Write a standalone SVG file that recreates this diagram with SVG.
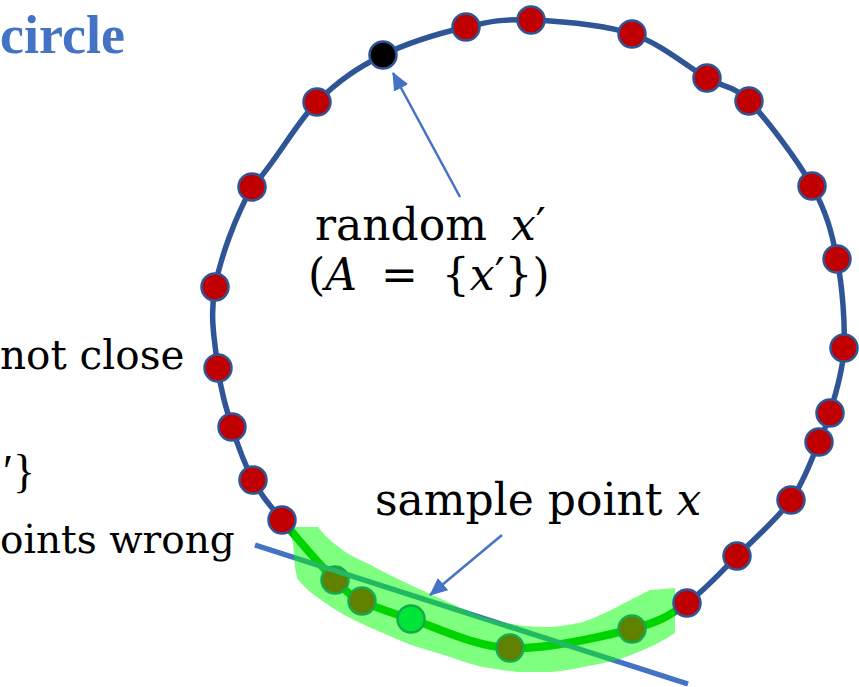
<svg xmlns="http://www.w3.org/2000/svg" width="859" height="687" viewBox="0 0 859 687">
<defs>
<style>
.i{font-style:italic}
.red{fill:#C00000;stroke:#2F5597;stroke-width:2.5}
.conn{stroke:#4472C4;stroke-width:2.5;fill:none}
</style>
<marker id="ah" markerUnits="userSpaceOnUse" markerWidth="20" markerHeight="16" refX="17" refY="8" orient="auto">
<path d="M0,0 L18,8 L0,16 Z" fill="#4472C4"/>
</marker>
</defs>
<rect width="859" height="687" fill="#fff"/>
<g id="ring">
<path d="M531,20 C558.67,21.17 602.67,24.33 632,34 C661.33,43.67 687.5,66.83 707,78 C726.5,89.17 731.5,84 749,101 C766.5,119 797.33,159.67 812,186 C826.67,212.33 831.67,232 837,259 C842.33,286 845.17,322.33 844,348 C842.83,373.67 834.17,397.33 830,413 C825.83,428.67 825.5,427.5 819,442 C812.5,456.5 804.67,481 791,500 C777.33,519 754.33,538.83 737,556 C719.67,573.17 704.5,590.83 687,603 C669.5,615.17 661.5,621.5 632,629 C602.5,636.5 546.83,649.67 510,648 C473.17,646.33 435.67,626.83 411,619 C386.33,611.17 374.67,607.5 362,601 C349.33,594.5 348.33,593.5 335,580 C321.67,566.5 295.67,536.67 282,520 C268.33,503.33 261.33,495.5 253,480 C244.67,464.5 237.83,445.67 232,427 C226.17,408.33 220.83,391.33 218,368 C215.17,344.67 209.33,317.17 215,287 C220.67,256.83 235,217.83 252,187 C273.83,165 295.17,124 317,102 C338.83,80 358.17,67.5 383,55 C407.83,42.5 441.33,32.83 466,27 C490.67,21.17 503.33,18.83 531,20 Z" fill="none" stroke="#2F5597" stroke-width="5.5"/>
<path d="M282,520 C295.67,536.67 321.67,566.5 335,580 C348.33,593.5 349.33,594.5 362,601 C374.67,607.5 386.33,611.17 411,619 C435.67,626.83 473.17,646.33 510,648 C546.83,649.67 602.5,636.5 632,629 C661.5,621.5 669.5,615.17 687,603" fill="none" stroke="#00A800" stroke-width="8"/>
</g>
<g id="covered-points">
<circle class="red" cx="335" cy="580" r="13.5"/>
<circle class="red" cx="362" cy="601" r="13.5"/>
<circle class="red" cx="510" cy="648" r="13.5"/>
<circle class="red" cx="632" cy="629" r="13.5"/>
</g>
<g id="sample-point">
<circle cx="411" cy="619" r="13.5" fill="#00CC70" stroke="#2F5597" stroke-width="2.5"/>
</g>
<g id="line">
<line x1="255" y1="545" x2="688" y2="684" stroke="#4472C4" stroke-width="5.5"/>
</g>
<g id="band">
<path d="M290,527 L318,527 C322,532 327,537 327,537 C335,545 347,553 347,553 C355,558 367,563 367,563 C378,569 390,575 390,575 C400,580 417,588 417,588 C430,594 450,603 450,603 C465,610 483,617 483,617 C500,622 517,625 517,625 C530,627 550,627 550,627 C565,626 583,622 583,622 C600,616 617,607 617,607 C630,600 650,590 650,590 L675,588 L675,633 C665,640 650,647 650,647 C635,654 617,660 617,660 C600,664 583,667 583,667 C566,671 550,672 550,672 L517,672 C500,670 483,667 483,667 C466,663 450,657 450,657 C435,652 417,647 417,647 C400,641 383,633 383,633 C366,626 350,618 350,618 C333,609 317,597 317,597 C305,589 297,578 297,578 L295,567 L293,543 Z" fill="#00FF00" fill-opacity="0.5"/>
</g>
<g id="points">
<circle class="red" cx="531" cy="20" r="13.5"/>
<circle class="red" cx="632" cy="34" r="13.5"/>
<circle class="red" cx="707" cy="78" r="13.5"/>
<circle class="red" cx="749" cy="101" r="13.5"/>
<circle class="red" cx="812" cy="186" r="13.5"/>
<circle class="red" cx="837" cy="259" r="13.5"/>
<circle class="red" cx="844" cy="348" r="13.5"/>
<circle class="red" cx="830" cy="413" r="13.5"/>
<circle class="red" cx="819" cy="442" r="13.5"/>
<circle class="red" cx="791" cy="500" r="13.5"/>
<circle class="red" cx="737" cy="556" r="13.5"/>
<circle class="red" cx="687" cy="603" r="13.5"/>
<circle class="red" cx="282" cy="520" r="13.5"/>
<circle class="red" cx="253" cy="480" r="13.5"/>
<circle class="red" cx="232" cy="427" r="13.5"/>
<circle class="red" cx="218" cy="368" r="13.5"/>
<circle class="red" cx="215" cy="287" r="13.5"/>
<circle class="red" cx="252" cy="187" r="13.5"/>
<circle class="red" cx="317" cy="102" r="13.5"/>
<circle class="red" cx="466" cy="27" r="13.5"/>
</g>
<g id="random-point">
<circle cx="383" cy="55" r="13.5" fill="#000" stroke="#2F5597" stroke-width="2.5"/>
</g>
<g id="connectors">
<line class="conn" x1="460" y1="197" x2="393" y2="73" marker-end="url(#ah)"/>
<line class="conn" x1="502" y1="535" x2="430" y2="595" marker-end="url(#ah)"/>
</g>
<g id="labels" fill="#000">
<text x="0" y="53" font-family="Liberation Serif" font-size="54" font-weight="bold" fill="#4472C4">circle</text>
<text x="0" y="369" font-family="DejaVu Serif" font-size="40.5">not close</text>
<text x="3" y="487" font-family="Liberation Serif" font-size="46">′}</text>
<text x="0" y="553" font-family="DejaVu Serif" font-size="39">oints wrong</text>
<text x="315" y="240" font-family="DejaVu Serif" font-size="44" word-spacing="10">random <tspan class="i">x</tspan>′</text>
<text x="308" y="290" font-family="DejaVu Serif" font-size="44" word-spacing="10">(<tspan class="i">A</tspan> = {<tspan class="i">x</tspan>′})</text>
<text x="375" y="515" font-family="DejaVu Serif" font-size="44">sample point <tspan class="i">x</tspan></text>
</g>
</svg>
